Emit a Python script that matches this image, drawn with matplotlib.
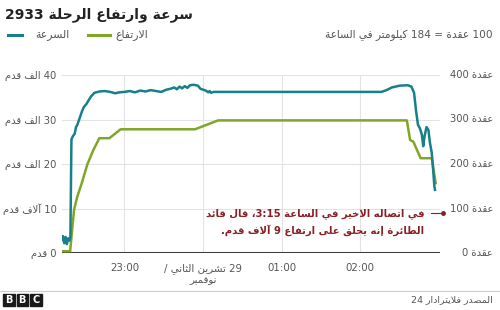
import re
import matplotlib
matplotlib.use("Agg")
import matplotlib.pyplot as plt
from matplotlib.lines import Line2D
from matplotlib.patches import Rectangle
import matplotlib.transforms as mtrans

plt.rcParams['font.family'] = ['DejaVu Sans']

# ---------------- Arabic shaping (presentation forms) + simple bidi ----------------
_FORMS = {
    '\u0621': (0xFE80, 1), '\u0622': (0xFE81, 2), '\u0623': (0xFE83, 2), '\u0624': (0xFE85, 2),
    '\u0625': (0xFE87, 2), '\u0626': (0xFE89, 4), '\u0627': (0xFE8D, 2), '\u0628': (0xFE8F, 4),
    '\u0629': (0xFE93, 2), '\u062A': (0xFE95, 4), '\u062B': (0xFE99, 4), '\u062C': (0xFE9D, 4),
    '\u062D': (0xFEA1, 4), '\u062E': (0xFEA5, 4), '\u062F': (0xFEA9, 2), '\u0630': (0xFEAB, 2),
    '\u0631': (0xFEAD, 2), '\u0632': (0xFEAF, 2), '\u0633': (0xFEB1, 4), '\u0634': (0xFEB5, 4),
    '\u0635': (0xFEB9, 4), '\u0636': (0xFEBD, 4), '\u0637': (0xFEC1, 4), '\u0638': (0xFEC5, 4),
    '\u0639': (0xFEC9, 4), '\u063A': (0xFECD, 4), '\u0641': (0xFED1, 4), '\u0642': (0xFED5, 4),
    '\u0643': (0xFED9, 4), '\u0644': (0xFEDD, 4), '\u0645': (0xFEE1, 4), '\u0646': (0xFEE5, 4),
    '\u0647': (0xFEE9, 4), '\u0648': (0xFEED, 2), '\u0649': (0xFEEF, 2), '\u064A': (0xFEF1, 4),
}
_LAM_ALEF = {'\u0622': 0xFEF5, '\u0623': 0xFEF7, '\u0625': 0xFEF9, '\u0627': 0xFEFB}


def _shape(s):
    toks = []
    i = 0
    while i < len(s):
        c = s[i]
        if c == '\u0644' and i + 1 < len(s) and s[i + 1] in _LAM_ALEF:
            toks.append((_LAM_ALEF[s[i + 1]], 2))
            i += 2
        elif c in _FORMS:
            toks.append(_FORMS[c])
            i += 1
        else:
            toks.append((c, 0))
            i += 1
    out = []
    for k, (b, n) in enumerate(toks):
        if n == 0:
            out.append(b)
            continue
        prev = toks[k - 1] if k > 0 else None
        nxt = toks[k + 1] if k + 1 < len(toks) else None
        jp = n > 1 and prev is not None and prev[1] == 4
        jn = n == 4 and nxt is not None and nxt[1] > 1
        if n == 1:
            idx = 0
        elif jp and jn:
            idx = 3
        elif jp:
            idx = 1
        elif jn:
            idx = 2
        else:
            idx = 0
        out.append(chr(b + idx))
    return ''.join(out)


def ar(s):
    """Right-to-left paragraph: shape, then put into visual order."""
    lines = []
    for line in s.split('\n'):
        sh = _shape(line)
        parts = re.findall(r'[0-9A-Za-z]+(?:[:.][0-9]+)*|.', sh)
        lines.append(''.join(reversed(parts)))
    return '\n'.join(lines)


# ---------------- data ----------------
title = "سرعة وارتفاع الرحلة 2933"
legend_speed = "السرعة"
legend_alt = "الارتفاع"
unit_note = "100 عقدة = 184 كيلومتر في الساعة"
source = "المصدر فلايترادار 24"
note = "في اتصاله الاخير في الساعة 3:15، قال قائد\nالطائرة إنه يحلق على ارتفاع 9 آلاف قدم."

# time in minutes after 22:00
x_ticks = [60, 120, 180, 240]
x_labels = ["23:00", "29 تشرين الثاني /\nنوفمبر", "01:00", "02:00"]
alt_ticks = [0, 10, 20, 30, 40]
alt_labels = ["0 قدم", "10 آلاف قدم", "20 الف قدم", "30 الف قدم", "40 الف قدم"]
speed_ticks = [0, 100, 200, 300, 400]
speed_unit = "عقدة"

speed_min = [12, 13, 14, 15, 16, 17, 18, 18.7, 19.5, 20.5, 22, 23, 24, 26, 27.5, 29, 31, 33,
             34.5, 37, 41, 45, 49, 53, 56, 60, 64, 68, 72, 76, 80, 84, 88, 92, 95, 98, 100,
             102, 104, 106, 108, 110, 113, 116, 118, 120, 122, 124, 125, 126, 128, 133, 256,
             260, 264, 270, 276, 279, 281, 282.5, 284, 285.5, 287, 288, 289, 290.5, 292, 293,
             294.5, 295.5, 296.5, 297]
speed_kt = [30, 38, 22, 36, 20, 33, 28, 35, 255, 262, 268, 283, 288, 305, 318, 328, 335, 345,
            352, 360, 363, 364, 362, 359, 361, 362, 364, 361, 365, 363, 366, 364, 362, 367, 369,
            372, 368, 374, 370, 375, 371, 377, 378, 376, 369, 367, 365, 361, 364, 360, 362, 362,
            362, 366, 372, 376, 377, 374, 360, 320, 288, 280, 265, 240, 262, 283, 276, 250,
            225, 190, 150, 142]

alt_min = [12, 18.5, 19.5, 21.5, 23.8, 27.7, 31.5, 36, 40.8, 48.5, 57, 113.8, 131.5, 275.5,
           278, 280.5, 286, 294.5, 297.5]
alt_kft = [0.4, 0.4, 3.5, 9.7, 12.5, 16, 19.8, 23, 25.8, 25.8, 27.8, 27.8, 29.8, 29.8,
           25.4, 25.0, 21.3, 21.3, 15.7]

note_point = (303, 9)  # (minutes after 22:00, thousand ft)

# ---------------- figure ----------------
W, H = 500, 310
fig = plt.figure(figsize=(W / 100, H / 100), dpi=100)
fig.patch.set_facecolor('white')

TEAL = '#17808a'
GREEN = '#80a628'
GRID = '#e3e3e3'
TXT = '#555555'
RED = '#8b1f24'


def fx(px):
    return px / W


def fy(py):
    return 1 - py / H


ax = fig.add_axes([fx(62), fy(253), fx(440) - fx(62), fy(75) - fy(253)])
ax2 = ax.twinx()

ax.set_xlim(12.3, 300.8)
ax.set_ylim(0, 40)
ax2.set_ylim(0, 400)

for a in (ax, ax2):
    for s in a.spines.values():
        s.set_visible(False)
    a.tick_params(length=0)

ax.set_yticks(alt_ticks, labels=[ar(t) for t in alt_labels])
ax.tick_params(axis='y', pad=4, labelsize=7.2, labelcolor=TXT)
ax.set_xticks(x_ticks, labels=[ar(t) for t in x_labels])
ax.tick_params(axis='x', pad=7, labelsize=7.4, labelcolor=TXT)
ax.grid(True, color=GRID, lw=0.8)
ax.set_axisbelow(True)
ax2.set_yticks([])

ax.axhline(0, color='#3a3a3a', lw=2.2, zorder=3)

ax.plot(alt_min, alt_kft, color=GREEN, lw=1.8, zorder=4, solid_joinstyle='round')
ax2.plot(speed_min, speed_kt, color=TEAL, lw=1.8, zorder=5, solid_joinstyle='round')

# right axis labels (right-aligned near figure edge)
tr = mtrans.blended_transform_factory(fig.transFigure, ax2.transData)
for v in speed_ticks:
    ax2.text(fx(493), v, f"{v} " + ar(speed_unit), transform=tr, ha='right', va='center',
             fontsize=7.2, color=TXT, clip_on=False)

# annotation
ax.plot([note_point[0] - 9, note_point[0]], [note_point[1]] * 2, color=RED, lw=0.8,
        clip_on=False, zorder=6)
ax.plot([note_point[0]], [note_point[1]], 'o', color=RED, ms=2.5, clip_on=False, zorder=6)
ax.text(fx(424), fy(222), ar(note), transform=fig.transFigure, ha='right', va='center',
        fontsize=7.2, color=RED, fontweight='bold', linespacing=1.6, multialignment='right')

# title and legend
fig.text(fx(5), fy(15), ar(title), ha='left', va='center', fontsize=10,
         fontweight='bold', color='#222222')
fig.add_artist(Line2D([fx(8), fx(22)], [fy(35)] * 2, color=TEAL, lw=2.2))
fig.text(fx(35), fy(35), ar(legend_speed), ha='left', va='center', fontsize=7.8, color=TXT)
fig.add_artist(Line2D([fx(88), fx(110)], [fy(35)] * 2, color=GREEN, lw=2.2))
fig.text(fx(115), fy(35), ar(legend_alt), ha='left', va='center', fontsize=7.8, color=TXT)
fig.text(fx(493), fy(35), ar(unit_note), ha='right', va='center', fontsize=7.6, color=TXT)

# footer
fig.add_artist(Line2D([0, 1], [fy(291)] * 2, color='#cccccc', lw=0.8))
for i, ch in enumerate("BBC"):
    x0 = 3 + i * 13.5
    fig.add_artist(Rectangle((fx(x0), fy(306)), fx(11.5), fy(294) - fy(306),
                             transform=fig.transFigure, color='#1a1a1a'))
    fig.text(fx(x0 + 5.75), fy(300), ch, ha='center', va='center', fontsize=7,
             fontweight='bold', color='white')
fig.text(fx(493), fy(300), ar(source), ha='right', va='center', fontsize=6.8, color=TXT)

fig.savefig('out.png', dpi=100, facecolor='white')
